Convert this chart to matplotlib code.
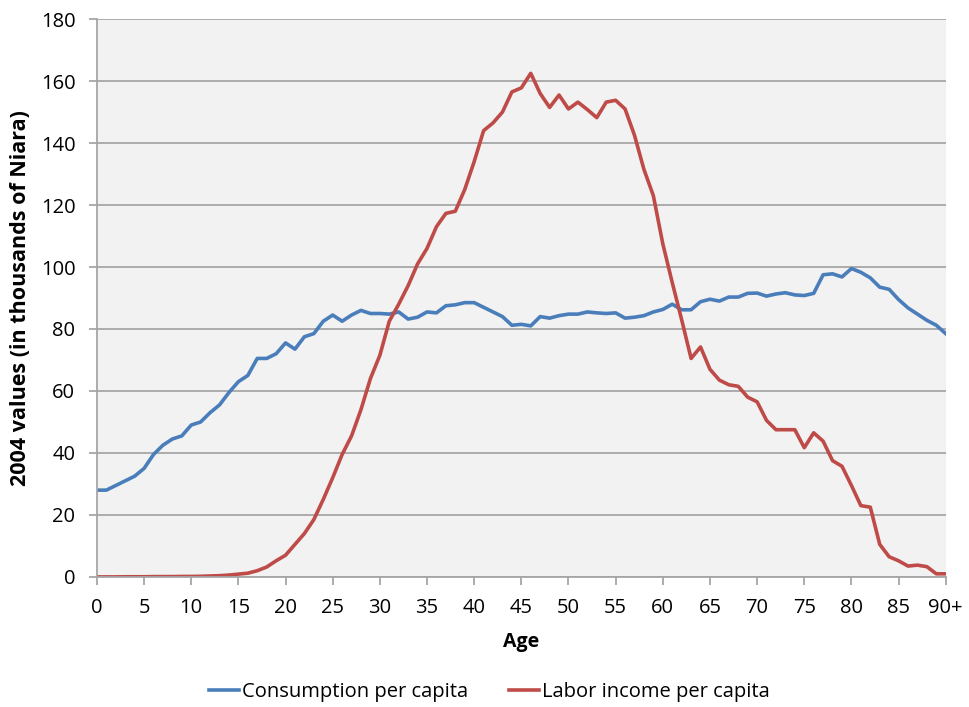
import matplotlib.pyplot as plt
import numpy as np

# ages 0..90 (90 = "90+")
ages = np.arange(0, 91)

consumption = [28, 28, 29.5, 31, 32.5, 35, 39.5, 42.5, 44.5, 45.5,
               49, 50, 53, 55.5, 59.5, 63, 65, 70.5, 70.5, 72,
               75.5, 73.5, 77.5, 78.5, 82.5, 84.5, 82.5, 84.5, 86, 85,
               85, 84.8, 85.5, 83.2, 83.8, 85.5, 85.2, 87.5, 87.8, 88.5,
               88.5, 87, 85.5, 84, 81.2, 81.5, 81, 84, 83.5, 84.3,
               84.8, 84.8, 85.5, 85.2, 85, 85.2, 83.5, 83.8, 84.3, 85.5,
               86.3, 88, 86.2, 86.2, 88.8, 89.6, 89, 90.3, 90.3, 91.5,
               91.6, 90.6, 91.3, 91.7, 91, 90.8, 91.5, 97.5, 97.8, 96.8,
               99.5, 98.3, 96.5, 93.5, 92.8, 89.5, 86.8, 84.8, 82.8, 81.2,
               78.5]

labor_income = [0, 0, 0, 0.05, 0.05, 0.05, 0.1, 0.1, 0.1, 0.15,
                0.15, 0.2, 0.3, 0.4, 0.6, 0.9, 1.2, 2, 3.2, 5.2,
                7, 10.5, 14, 18.5, 25, 32, 39.5, 45.5, 54, 64,
                71.5, 82.5, 88, 94, 101, 106, 113, 117.3, 118, 125,
                134, 144, 146.5, 150, 156.5, 157.8, 162.5, 156, 151.5, 155.5,
                151, 153.2, 150.8, 148.2, 153.2, 153.8, 151, 142.5, 131.5, 123,
                107.5, 95, 83, 70.5, 74.2, 67, 63.5, 62, 61.5, 58,
                56.5, 50.5, 47.5, 47.5, 47.5, 41.7, 46.5, 43.8, 37.5, 35.7,
                29.5, 23, 22.5, 10.5, 6.5, 5.2, 3.5, 3.8, 3.3, 1,
                1]

xtick_pos = list(range(0, 91, 5))
xtick_labels = [str(a) for a in range(0, 90, 5)] + ['90+']
yticks = list(range(0, 181, 20))

plt.rcParams['font.family'] = ['Open Sans', 'DejaVu Sans']

fig = plt.figure(figsize=(9.69, 7.07), dpi=100)
ax = fig.add_axes([0.1, 0.184, 0.876, 0.789])
ax.set_facecolor('#f2f2f2')

ax.plot(ages, consumption, color='#4a7ebb', lw=2.6, label='Consumption per capita', solid_joinstyle='round')
ax.plot(ages, labor_income, color='#be4b48', lw=2.6, label='Labor income per capita', solid_joinstyle='round')

ax.set_xlim(0, 90)
ax.set_ylim(0, 180)
ax.set_yticks(yticks)
ax.set_xticks(xtick_pos)
ax.set_xticklabels(xtick_labels)
ax.yaxis.grid(True, color='#a6a6a6', lw=1.3)
ax.set_axisbelow(True)

for s in ['top', 'right']:
    ax.spines[s].set_visible(False)
for s in ['left', 'bottom']:
    ax.spines[s].set_color('#a6a6a6')
    ax.spines[s].set_linewidth(1.3)

ax.tick_params(axis='both', colors='#a6a6a6', labelcolor='black', labelsize=14.5, length=5.5, width=1.3)
ax.tick_params(axis='x', pad=10)
ax.tick_params(axis='y', pad=10)

ax.set_xlabel('Age', fontsize=14, fontweight='bold', labelpad=10)
ax.set_ylabel('2004 values (in thousands of Niara)', fontsize=15.5, fontweight='bold', labelpad=7)

fig.legend(loc='lower center', ncol=2, frameon=False, fontsize=14.5,
           bbox_to_anchor=(0.505, -0.018), handlelength=1.5, handletextpad=0.15, columnspacing=2.0)

fig.savefig('out.png', dpi=100)
